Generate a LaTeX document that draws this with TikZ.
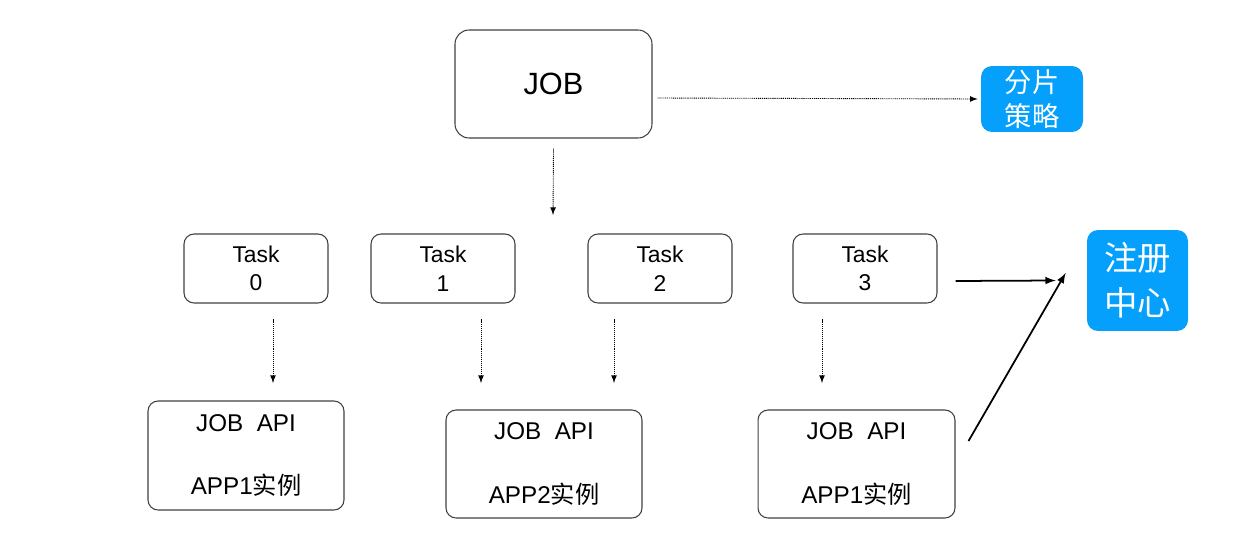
\documentclass[tikz,border=0pt]{standalone}
\usepackage{fontspec}
\setmainfont{Liberation Sans}
\newfontfamily\cjk{Noto Sans CJK SC}
\definecolor{regblue}{RGB}{5,160,252}
\begin{document}
\begin{tikzpicture}[>=latex, x=0.02cm, y=-0.02cm,
	box/.style={draw=black!75, line width=0.6pt, rounded corners=0.2cm, align=center, inner sep=0pt},
	bluebox/.style={fill=regblue, text=white, rounded corners=0.22cm, align=center, inner sep=0pt},
	dots/.style={->, line width=0.5pt, dash pattern=on 0.6pt off 0.5pt},
	link/.style={->, line width=1pt}]
	\useasboundingbox (0,0) rectangle (1234,541);

	\node[box, rounded corners=0.28cm, minimum width=3.94cm, minimum height=2.16cm, font=\fontsize{17.5}{21}\selectfont] (job) at (553.5,84) {JOB};
	\node[bluebox, minimum width=2.04cm, minimum height=1.32cm, font=\fontsize{15.5}{19.3}\selectfont\cjk] (shard) at (1032,99) {分片\\策略};
	\draw[dots, shorten <=0.1cm, shorten >=0.06cm] ([yshift=-0.28cm]job.east) -- (shard.west);
	\coordinate (split) at (553,215);
	\draw[dots] ([yshift=-0.2cm]job.south) -- (split);

	\foreach \i/\x in {0/256,1/443,2/660,3/865}
		\node[box, minimum width=2.88cm, minimum height=1.38cm, font=\fontsize{13}{18.2}\selectfont] (task\i) at (\x,268.5) {\raisebox{-2pt}{Task}\\\i};

	\node[box, minimum width=3.92cm, minimum height=2.18cm, font=\fontsize{13.8}{16.5}\selectfont] (app0) at (246,455.5) {JOB\ \ API\\[19.9pt]APP1{\cjk 实例}};
	\node[box, minimum width=3.92cm, minimum height=2.16cm, font=\fontsize{13.8}{16.5}\selectfont] (app1) at (544,464) {JOB\ \ API\\[19.9pt]APP2{\cjk 实例}};
	\node[box, minimum width=3.94cm, minimum height=2.16cm, font=\fontsize{13.8}{16.5}\selectfont] (app2) at (856.5,464) {JOB\ \ API\\[19.9pt]APP1{\cjk 实例}};

	\foreach \i/\x in {0/273,1/481,2/614,3/822} {
		\coordinate (in\i) at (\x,383);
		\draw[dots] ([yshift=-0.3cm]in\i |- task\i.south) -- (in\i);
	}

	\node[bluebox, minimum width=2.02cm, minimum height=2.02cm, font=\fontsize{19}{25.6}\selectfont\cjk] (reg) at (1137.5,280.5) {注册\\中心};
	\draw[link] ([shift={(0.36cm,-0.25cm)}]task3.east) -- ([xshift=-0.62cm]reg.west);
	\draw[link] ([shift={(0.26cm,0.46cm)}]app2.east) -- ([shift={(-0.42cm,0.15cm)}]reg.west);
\end{tikzpicture}
\end{document}
